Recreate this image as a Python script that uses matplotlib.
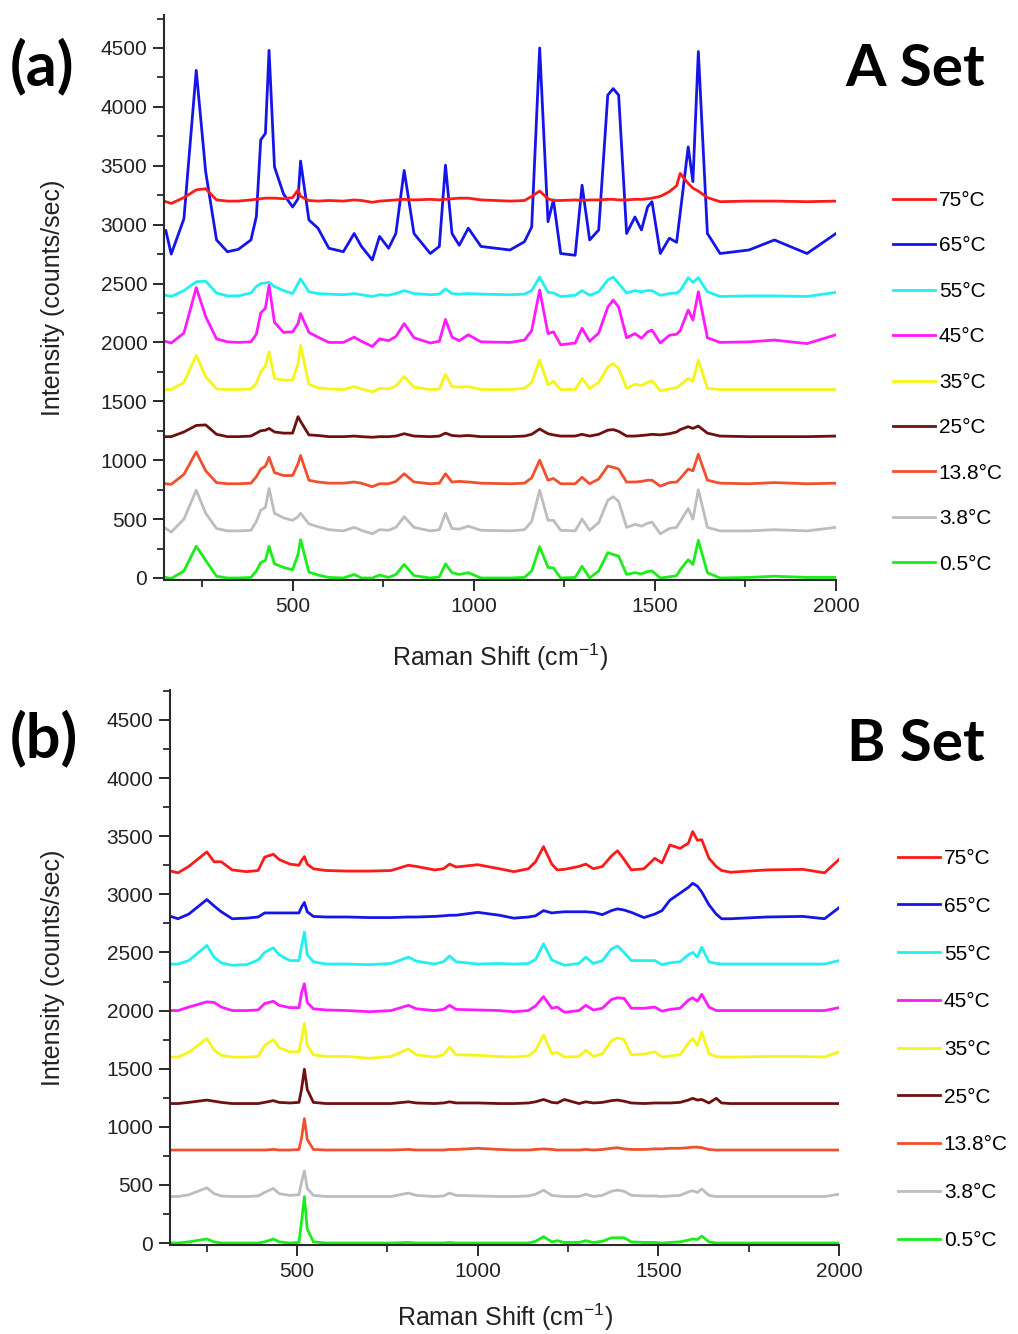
import numpy as np
import matplotlib
matplotlib.use('Agg')
import matplotlib.pyplot as plt
from matplotlib.ticker import MultipleLocator

plt.rcParams['font.family'] = ['Liberation Sans', 'DejaVu Sans']
plt.rcParams['mathtext.fontset'] = 'custom'
plt.rcParams['mathtext.rm'] = 'Liberation Sans'
plt.rcParams['mathtext.it'] = 'Liberation Sans'

labels = ['75°C', '65°C', '55°C', '45°C', '35°C', '25°C', '13.8°C', '3.8°C', '0.5°C']
colors = ['#ff1a1a', '#1515e8', '#22f0f0', '#ff1aff', '#f5f51a',
          '#6e1010', '#f0502e', '#bdbdbd', '#1aee1a']
offsets = [3200, 2800, 2400, 2000, 1600, 1200, 800, 400, 0]

# --- A set: Raman shift (cm-1) and intensity above each baseline ---
shift_a = [150, 165, 200, 234, 260, 290, 320, 350, 385, 400,
           412, 425, 435, 450, 475, 500, 515, 522, 545, 570,
           600, 640, 670, 690, 720, 740, 765, 785, 808, 835,
           880, 905, 922, 940, 960, 985, 1020, 1100, 1140, 1160,
           1182, 1205, 1220, 1240, 1280, 1299, 1320, 1345, 1370, 1385,
           1400, 1422, 1445, 1463, 1480, 1492, 1515, 1540, 1560, 1570,
           1592, 1605, 1620, 1645, 1680, 1760, 1830, 1920, 2000]

a_75 = [-5, -20, 30, 95, 105, 10, 0, 0, 10, 15,
        20, 25, 25, 25, 20, 30, 95, 40, 5, 0,
        5, 0, 10, 5, -10, 0, 5, 10, 15, 10,
        15, 10, 15, 20, 25, 25, 10, 0, 5, 40,
        85, 20, 5, 5, 10, 5, 10, 10, 15, 15,
        10, 10, 15, 15, 20, 25, 40, 80, 130, 235,
        150, 110, 85, 30, -5, 0, 0, -5, 0]
a_65 = [150, -50, 250, 1510, 650, 70, -30, -10, 70, 270,
        920, 975, 1680, 690, 460, 350, 420, 740, 240, 170,
        0, -30, 125, 15, -100, 100, 0, 125, 660, 125,
        -45, 15, 705, 125, 25, 170, 15, -15, 55, 180,
        1700, 225, 410, -45, -60, 535, 70, 155, 1300, 1355,
        1300, 125, 265, 155, 350, 395, -45, 85, 50, 300,
        860, 565, 1670, 125, -45, -15, 70, -45, 125]
a_55 = [0, -10, 40, 115, 120, 20, -5, -5, 20, 75,
        100, 105, 110, 75, 40, 15, 100, 140, 30, 15,
        10, 5, 15, 5, -10, 5, 0, 15, 40, 15,
        5, 10, 55, 15, 10, 15, 10, 5, 10, 40,
        155, 25, 20, -10, 0, 40, 0, 30, 130, 155,
        100, 20, 40, 30, 40, 40, 0, 15, 20, 40,
        150, 110, 150, 30, -10, -5, -5, -10, 25]
a_45 = [8, -5, 80, 465, 220, 30, 5, 0, 5, 70,
        250, 290, 485, 170, 85, 90, 160, 245, 85, 45,
        0, 0, 45, 10, -35, 30, 15, 50, 160, 40,
        -5, 10, 195, 45, 15, 65, 5, 0, 20, 100,
        445, 75, 90, -20, -5, 120, 10, 80, 300, 360,
        300, 40, 75, 35, 90, 105, -5, 60, 70, 100,
        275, 190, 430, 40, 0, 5, 20, -10, 65]
a_35 = [0, 0, 60, 290, 110, 5, 0, 0, 5, 50,
        150, 200, 320, 95, 80, 80, 220, 375, 45, 15,
        5, 0, 25, 5, -20, 10, 5, 30, 110, 20,
        0, 5, 130, 25, 20, 25, 0, 0, 10, 60,
        250, 40, 70, 0, 0, 95, 10, 60, 190, 220,
        180, 10, 45, 35, 60, 75, -10, 5, 15, 40,
        95, 70, 250, 10, 0, 0, 0, 0, 0]
a_25 = [0, 0, 40, 95, 100, 20, 0, 0, 5, 30,
        50, 55, 70, 40, 30, 30, 170, 130, 15, 10,
        0, 0, 5, 0, -5, 0, 0, 5, 25, 5,
        0, 5, 30, 10, 5, 10, 0, 0, 5, 20,
        65, 25, 15, 5, 5, 20, 5, 20, 55, 60,
        45, 5, 5, 10, 15, 20, 15, 25, 40, 60,
        85, 70, 90, 30, 5, 0, 0, 0, 5]
a_13_8 = [0, -5, 80, 270, 110, 10, 0, 0, 5, 60,
          125, 150, 225, 95, 70, 70, 170, 240, 30, 15,
          5, 5, 15, 5, -25, 0, 0, 20, 85, 15,
          0, 5, 85, 15, 20, 15, 5, 0, 5, 50,
          200, 30, 45, 0, 0, 55, 0, 40, 150, 140,
          125, 15, 15, 20, 30, 30, -20, 10, 15, 45,
          125, 110, 250, 30, 5, 0, 10, 0, 5]
a_3_8 = [20, -10, 100, 345, 150, 20, 0, 0, 5, 80,
         175, 200, 360, 150, 110, 90, 120, 150, 60, 35,
         10, 0, 30, 5, -25, 10, 5, 30, 120, 30,
         0, 10, 150, 20, 15, 40, 5, 0, 10, 80,
         345, 90, 90, 5, 0, 100, 5, 70, 260, 290,
         250, 30, 55, 40, 65, 75, -25, 20, 30, 80,
         190, 100, 350, 30, 0, 0, 10, 0, 30]
a_0_5 = [5, -5, 60, 270, 150, 15, 0, 0, 5, 60,
         130, 150, 268, 120, 90, 70, 200, 325, 50, 25,
         5, 0, 30, 0, 0, 25, 5, 30, 115, 20,
         0, 10, 120, 45, 30, 45, 0, 0, 5, 60,
         265, 90, 85, 0, 5, 100, 0, 60, 215, 200,
         185, 30, 45, 35, 55, 60, 0, 10, 20, 70,
         155, 115, 320, 45, 0, 5, 15, 5, 5]

# --- B set ---
shift_b = [150, 170, 200, 250, 270, 290, 320, 360, 392, 410,
           434, 450, 480, 505, 512, 520, 528, 545, 580, 640,
           700, 760, 808, 830, 880, 905, 922, 940, 1000, 1060,
           1100, 1140, 1160, 1182, 1205, 1220, 1240, 1280, 1299, 1320,
           1345, 1370, 1387, 1405, 1425, 1460, 1490, 1510, 1532, 1560,
           1583, 1595, 1608, 1620, 1640, 1660, 1675, 1700, 1800, 1900,
           1960, 2000]

b_75 = [0, -15, 40, 165, 80, 80, 10, -5, 5, 120,
        145, 100, 60, 50, 90, 125, 60, 20, 5, 0,
        0, 5, 50, 40, 10, 20, 60, 35, 55, 20,
        -5, 20, 80, 210, 60, 10, 15, 40, 60, 20,
        40, 130, 175, 100, 10, 20, 110, 70, 225, 195,
        240, 340, 265, 270, 110, 40, 5, -10, 10, 15,
        -15, 100]
b_65 = [10, -10, 30, 155, 100, 50, -10, -5, 5, 40,
        40, 40, 40, 40, 90, 130, 50, 10, 5, 5,
        0, 0, 5, 5, 10, 15, 20, 20, 45, 20,
        -5, 5, 15, 60, 40, 45, 50, 50, 50, 45,
        25, 60, 75, 65, 45, 0, 30, 60, 150, 210,
        260, 295, 270, 220, 110, 30, -10, -10, 5, 10,
        -10, 85]
b_55 = [0, 0, 30, 160, 60, 10, -10, -5, 35, 100,
        140, 80, 30, 30, 150, 275, 80, 20, 0, 0,
        -5, 5, 60, 25, 0, 20, 70, 20, 0, 5,
        0, 5, 40, 175, 35, 15, -10, 5, 60, 5,
        30, 130, 155, 100, 30, 30, 30, -5, 10, 20,
        80, 100, 60, 145, 20, 5, 0, 0, 0, 0,
        0, 30]
b_45 = [0, 0, 30, 75, 70, 30, 0, 0, 5, 60,
        80, 45, 25, 25, 150, 230, 70, 15, 5, 0,
        -10, 0, 45, 15, 0, 10, 45, 10, 5, 0,
        -10, 0, 40, 120, 20, 30, -15, 0, 45, 5,
        20, 95, 110, 105, 20, 20, 30, -5, 10, 20,
        90, 110, 80, 140, 30, 0, 0, 0, 0, 0,
        0, 25]
b_35 = [0, 0, 40, 160, 60, 15, 0, 0, 5, 100,
        150, 80, 45, 45, 150, 290, 100, 20, 5, 5,
        -10, 5, 70, 20, 0, 20, 85, 20, 15, 5,
        0, 10, 60, 190, 30, 40, 0, 5, 60, 5,
        30, 140, 165, 150, 20, 25, 45, 0, 10, 20,
        120, 160, 100, 215, 30, 5, 0, 0, 5, 5,
        0, 45]
b_25 = [0, 0, 10, 30, 20, 10, 0, 0, 0, 10,
        25, 10, 5, 10, 120, 295, 120, 10, 0, 0,
        0, 0, 15, 5, 0, 5, 15, 5, 5, 0,
        0, 5, 15, 35, 10, 5, 35, 0, 15, 5,
        10, 25, 30, 20, 5, 0, 5, 5, 5, 10,
        30, 45, 30, 35, 5, 45, 5, 0, 0, 0,
        0, 0]
b_13_8 = [0, 0, 0, 0, 0, 0, 0, 0, 0, 0,
          5, 0, 0, 5, 100, 270, 90, 5, 0, 0,
          0, 0, 5, 0, 0, 0, 5, 5, 15, 5,
          0, 0, 5, 10, 5, 0, 0, 0, 5, 0,
          5, 15, 20, 10, 5, 5, 10, 10, 15, 15,
          20, 25, 25, 20, 5, 0, 0, 0, 0, 0,
          0, 0]
b_3_8 = [0, 0, 15, 75, 25, 5, 0, 0, 5, 35,
         70, 25, 10, 15, 120, 220, 70, 10, 0, 0,
         0, 0, 30, 10, 0, 5, 30, 10, 5, 0,
         0, 5, 20, 55, 10, 5, 0, 0, 20, 0,
         10, 45, 55, 45, 10, 5, 5, 0, 5, 10,
         40, 50, 35, 65, 10, 0, 0, 0, 0, 0,
         0, 20]
b_0_5 = [0, 0, 10, 35, 10, 0, 0, 0, 0, 10,
         35, 10, 0, 5, 180, 400, 120, 10, 0, 0,
         0, 0, 5, 0, 0, 0, 5, 0, 0, 0,
         0, 0, 15, 55, 10, 20, 5, 5, 20, 5,
         15, 45, 45, 45, 10, 5, 5, 0, 5, 10,
         25, 35, 30, 60, 10, 0, 0, 0, 0, 0,
         0, 0]

spectra_a = [a_75, a_65, a_55, a_45, a_35, a_25, a_13_8, a_3_8, a_0_5]
spectra_b = [b_75, b_65, b_55, b_45, b_35, b_25, b_13_8, b_3_8, b_0_5]

W, H = 1018, 1334
fig = plt.figure(figsize=(W / 100, H / 100), dpi=100)


def draw_panel(box, shift, spectra, xlim, ylim, legend_top, spacing,
               tag, tag_y, title, title_y, xlabel_top):
    left, top, right, bottom = box
    ax = fig.add_axes([left / W, 1 - bottom / H, (right - left) / W, (bottom - top) / H])
    handles = []
    # lowest spectrum first so the upper ones sit on top
    for i in range(len(spectra) - 1, -1, -1):
        y = np.array(spectra[i]) + offsets[i]
        line, = ax.plot(shift, y, color=colors[i], lw=2.0, solid_joinstyle='round')
        handles.insert(0, line)

    ax.set_xlim(*xlim)
    ax.set_ylim(*ylim)
    ax.xaxis.set_major_locator(MultipleLocator(500))
    ax.xaxis.set_minor_locator(MultipleLocator(250))
    ax.yaxis.set_major_locator(MultipleLocator(500))
    ax.yaxis.set_minor_locator(MultipleLocator(250))
    for s in ['top', 'right']:
        ax.spines[s].set_visible(False)
    for s in ['left', 'bottom']:
        ax.spines[s].set_linewidth(1.5)
        ax.spines[s].set_color('#2a2a2a')
    ax.tick_params(which='major', direction='out', length=8, width=1.4,
                   labelsize=15, color='#2a2a2a', labelcolor='#222222', pad=4)
    ax.tick_params(which='minor', direction='out', length=5, width=1.3, color='#2a2a2a')

    ax.set_ylabel('Intensity (counts/sec)', fontsize=18, color='#222222')
    ax.set_xlabel('Raman Shift (cm$^{-1}$)', fontsize=18, color='#222222')
    ax.yaxis.set_label_coords((65 - left) / (right - left), 0.5)
    ax.xaxis.set_label_coords(0.5, -(xlabel_top - bottom) / (bottom - top))

    fig.legend(handles, labels, loc='upper left',
               bbox_to_anchor=(legend_top[0] / W, 1 - legend_top[1] / H),
               frameon=False, fontsize=15, handlelength=2.0, handletextpad=0.2,
               labelspacing=spacing, borderpad=0, borderaxespad=0)

    fig.text(10 / W, 1 - tag_y / H, tag, fontsize=44, fontweight='bold',
             family=['Lato', 'DejaVu Sans'], ha='left', va='center')
    fig.text(985 / W, 1 - title_y / H, title, fontsize=42, fontweight='bold',
             family=['Lato', 'DejaVu Sans'], ha='right', va='baseline')
    return ax


draw_panel((164, 15, 836, 580), shift_a, spectra_a, (145, 2000), (-17, 4780),
           (893, 191), 1.27, '(a)', 66, 'A Set', 86, 642)
draw_panel((170, 690, 839, 1245), shift_b, spectra_b, (148, 2000), (-17, 4758),
           (898, 849), 1.38, '(b)', 738, 'B Set', 761, 1302)

fig.savefig('out.png', dpi=100)
